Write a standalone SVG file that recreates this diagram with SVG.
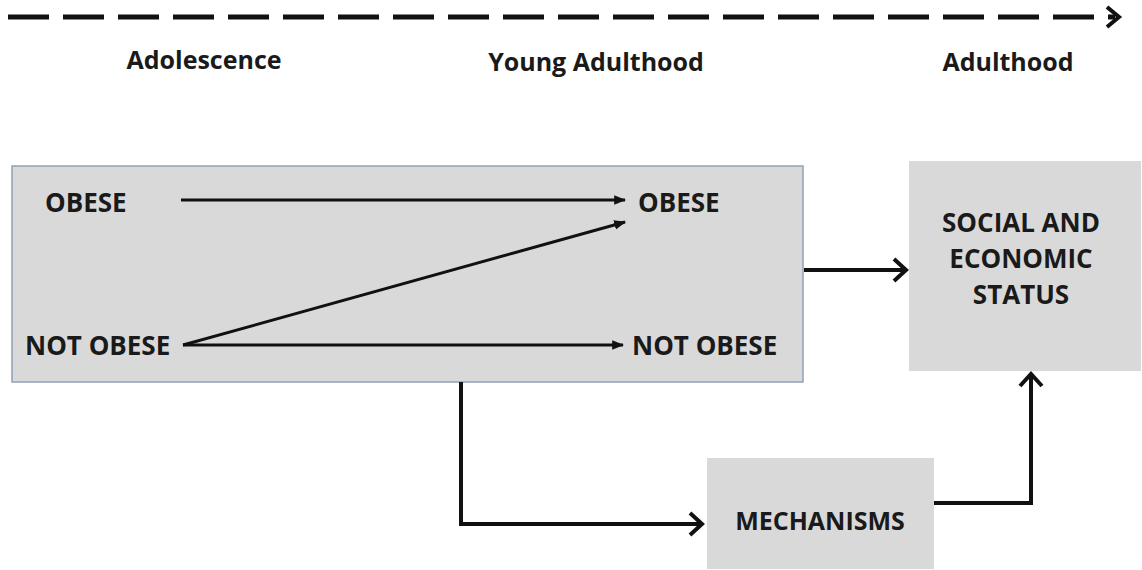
<svg xmlns="http://www.w3.org/2000/svg" width="1142" height="570" viewBox="0 0 1142 570">
<defs>
<style>
.lbl{font-family:"Open Sans","Liberation Sans",sans-serif;font-weight:bold;fill:#1a1a1a;font-size:25px}
.bx{font-size:26px}
.box{fill:#d9d9d9}
.thin{stroke:#111;stroke-width:3;fill:none}
.thick{stroke:#111;stroke-width:4;fill:none}
.chev{stroke:#111;stroke-width:4;fill:none;stroke-linejoin:miter}
</style>
<marker id="tri" viewBox="0 0 10 10" refX="9" refY="5" markerWidth="4" markerHeight="4" orient="auto" markerUnits="strokeWidth">
<path d="M0,1 L10,5 L0,9 z" fill="#111"/>
</marker>
</defs>
<rect width="1142" height="570" fill="#fff"/>
<g id="timeline">
<line x1="8" y1="17" x2="1115" y2="17" stroke="#111" stroke-width="5" stroke-dasharray="41 14"/>
<polyline points="1107,7 1119,17 1107,27" class="chev"/>
</g>
<g id="stage-labels">
<text class="lbl" x="204" y="69" text-anchor="middle">Adolescence</text>
<text class="lbl" x="596" y="71" text-anchor="middle">Young Adulthood</text>
<text class="lbl" x="1008" y="71" text-anchor="middle">Adulthood</text>
</g>
<g id="obesity-box">
<rect class="box" x="12" y="166" width="791" height="216" stroke="#8fa3b8" stroke-width="1.5"/>
<text class="lbl bx" x="45" y="212">OBESE</text>
<text class="lbl bx" x="25" y="355">NOT OBESE</text>
<text class="lbl bx" x="638" y="212">OBESE</text>
<text class="lbl bx" x="632" y="355">NOT OBESE</text>
</g>
<g id="ses">
<rect class="box" x="909" y="161" width="232" height="210"/>
<text class="lbl bx" x="1021" y="232" text-anchor="middle">SOCIAL AND</text>
<text class="lbl bx" x="1021" y="268" text-anchor="middle">ECONOMIC</text>
<text class="lbl bx" x="1021" y="304" text-anchor="middle">STATUS</text>
</g>
<g id="mechanisms">
<rect class="box" x="707" y="458" width="227" height="111"/>
<text class="lbl" x="820" y="530" text-anchor="middle" font-size="27">MECHANISMS</text>
</g>
<g id="connectors">
<line class="thin" x1="181" y1="200" x2="625" y2="200" marker-end="url(#tri)"/>
<line class="thin" x1="183" y1="345" x2="625" y2="222" marker-end="url(#tri)"/>
<line class="thin" x1="183" y1="345" x2="623" y2="345" marker-end="url(#tri)"/>
<line class="thick" x1="804" y1="270" x2="904" y2="270"/>
<polyline class="chev" points="894,259 906,270 894,281"/>
<polyline class="thick" points="461,382 461,524 700,524"/>
<polyline class="chev" points="690,513 702,524 690,535"/>
<polyline class="thick" points="934,503 1031,503 1031,376"/>
<polyline class="chev" points="1020,386 1031,374 1042,386"/>
</g>
</svg>
